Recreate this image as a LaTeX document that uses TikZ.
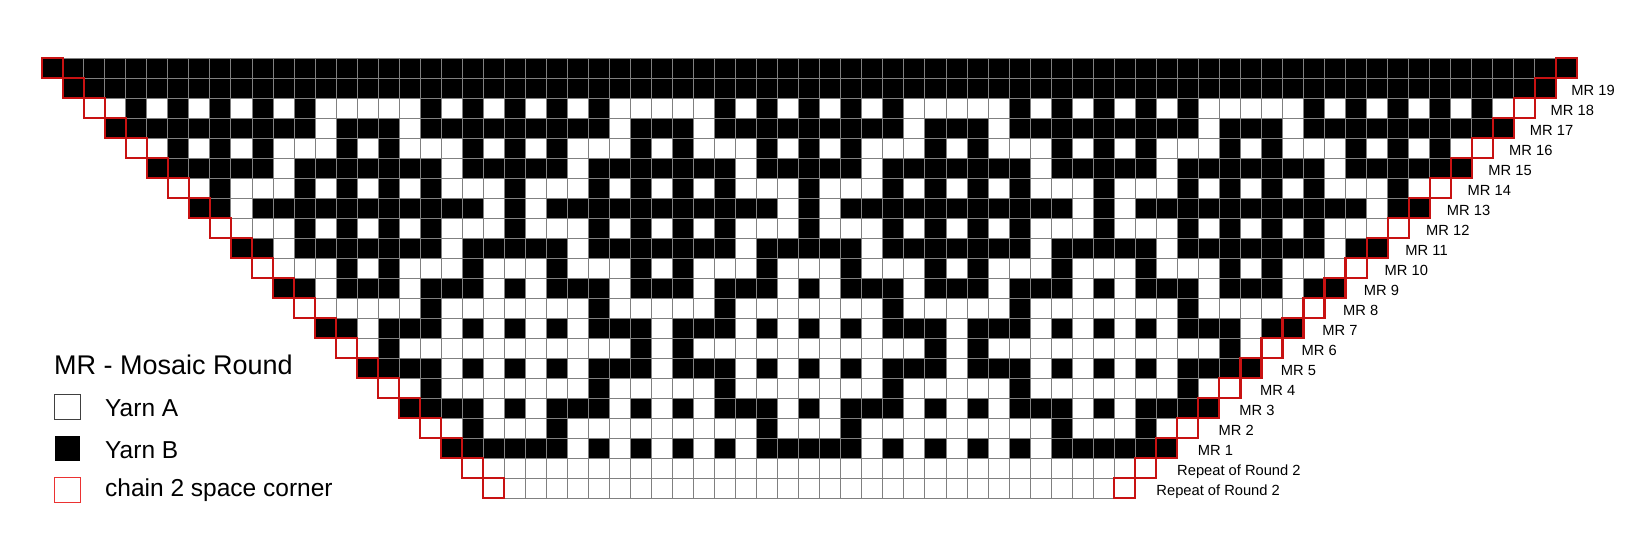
\documentclass[tikz,border=0pt]{standalone}
\usepackage{fontspec}
\setmainfont{Liberation Sans}
\definecolor{gridgray}{RGB}{128,128,128}
\definecolor{cornerred}{RGB}{200,18,18}
\definecolor{legendred}{RGB}{235,50,50}
\definecolor{legendgray}{RGB}{64,64,64}
\tikzset{
  cellbox/.style={draw=gridgray, line width=1pt},
  cornerbox/.style={draw=cornerred, line width=2.2pt},
  rowlabel/.style={anchor=base west, inner sep=0pt, font=\fontsize{14.7pt}{17pt}\selectfont},
  legendtext/.style={anchor=base west, inner sep=0pt, font=\fontsize{24.5pt}{28pt}\selectfont},
  keybox/.style={anchor=north west, inner sep=0pt, minimum width=25.4pt, minimum height=25pt, line width=1pt},
}
\begin{document}
\begin{tikzpicture}[x=1pt,y=-1pt]
\useasboundingbox (0,0) rectangle (1640,537);
% pass 1: black cells of the pattern
\foreach \rw in {0,...,21}{
  \ifcase\rw\relax
     \def\blk{0,1,2,3,4,5,6,7,8,9,10,11,12,13}%
  \or\def\blk{0,1,2,3,4,5,6,7,8,9,10,11,12,13}%
  \or\def\blk{4,6,8,10,12}%
  \or\def\blk{0,1,2,4,5,6,7,8,9,10,11,12}%
  \or\def\blk{0,2,6,8,10}%
  \or\def\blk{0,1,2,3,4,6,7,8,9,10,12,13}%
  \or\def\blk{0,2,4,8,12}%
  \or\def\blk{0,1,2,3,4,5,6,8,10,11,12,13}%
  \or\def\blk{0,2,4,8,12}%
  \or\def\blk{0,1,2,3,4,6,7,8,9,10,12,13}%
  \or\def\blk{0,2,6,10}%
  \or\def\blk{0,1,2,4,5,6,8,10,11,12}%
  \or\def\blk{4,12}%
  \or\def\blk{0,2,3,4,6,8,10,12,13}%
  \or\def\blk{0,2}%
  \or\def\blk{0,2,3,4,6,8,10,12,13}%
  \or\def\blk{4,12}%
  \or\def\blk{0,2,4,5,6,8,10,11,12}%
  \or\def\blk{6,10}%
  \or\def\blk{0,2,4,6,7,8,9,10,12}%
  \or\def\blk{99}%
  \or\def\blk{99}%
  \fi
  \pgfmathtruncatemacro{\cmax}{72-\rw}
  \foreach \r in \blk {
    \foreach \k in {0,...,5}{
      \pgfmathtruncatemacro{\cl}{14*\k+\r}
      \ifnum\cl<\rw\relax\else\ifnum\cl>\cmax\relax\else
        \fill[black] ({41.7+21.03*\cl},{58.3+20*\rw}) rectangle ++(21.03,20);
      \fi\fi
    }
  }
}
% pass 1b: corner cells colour
\foreach \rw in {0,...,21}{
  \pgfmathtruncatemacro{\cR}{72-\rw}
  \ifnum\rw<2 \def\rc{black}\else\ifnum\rw>19 \def\rc{white}\else\ifodd\rw\relax\def\rc{black}\else\def\rc{white}\fi\fi\fi
  \fill[\rc] ({41.7+21.03*\rw},{58.3+20*\rw}) rectangle ++(21.03,20);
  \fill[\rc] ({41.7+21.03*\cR},{58.3+20*\rw}) rectangle ++(21.03,20);
}
% pass 2: grid
\foreach \rw in {0,...,21}{
  \pgfmathtruncatemacro{\cmax}{72-\rw}
  \foreach \cl in {\rw,...,\cmax}{
    \draw[cellbox] ({41.7+21.03*\cl},{58.3+20*\rw}) rectangle ++(21.03,20);
  }
}
% pass 3: corner outlines
\foreach \rw in {0,...,21}{
  \pgfmathtruncatemacro{\cR}{72-\rw}
  \draw[cornerbox] ({41.7+21.03*\rw},{58.3+20*\rw}) rectangle ++(21.03,20);
  \draw[cornerbox] ({41.7+21.03*\cR},{58.3+20*\rw}) rectangle ++(21.03,20);
}
% row labels
\foreach \rw in {1,...,19}{
  \pgfmathtruncatemacro{\mr}{20-\rw}
  \node[rowlabel] (lab\rw) at ({1592-20.75*\rw},{75.3+20*\rw}) {MR \mr};
}
\node[rowlabel] (lab20) at ({1592-20.75*20},{75.3+20*20}) {Repeat of Round 2};
\node[rowlabel] (lab21) at ({1592-20.75*21},{75.3+20*21}) {Repeat of Round 2};
% legend
\node[anchor=base west, inner sep=0pt, font=\fontsize{27pt}{31pt}\selectfont] (title) at (54,374.3) {MR - Mosaic Round};
\node[keybox, draw=legendgray, fill=white] (keyA) at (54.3,394.3) {};
\node[keybox, fill=black] (keyB) at (54.3,435.3) {};
\node[keybox, draw=legendred, fill=white] (keyC) at (54.3,476.5) {};
\node[legendtext] (txtA) at (105,416) {Yarn A};
\node[legendtext] (txtB) at (105,458.3) {Yarn B};
\node[legendtext] (txtC) at (105,496.7) {chain 2 space corner};
\end{tikzpicture}
\end{document}
